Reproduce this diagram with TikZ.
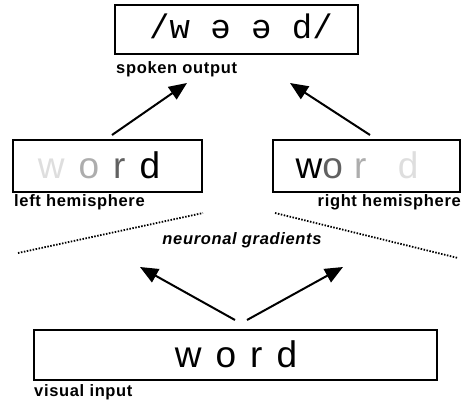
\documentclass[tikz,border=0pt]{standalone}
\usepackage{fontspec}
\setmainfont{Liberation Sans}
\newfontfamily\labfont[LetterSpace=4]{Liberation Sans}
\newfontfamily\ipafont{Liberation Mono}
\usetikzlibrary{arrows.meta}
\definecolor{gA}{gray}{0.87}
\definecolor{gB}{gray}{0.68}
\definecolor{gC}{gray}{0.38}
\definecolor{gD}{gray}{0.0}
\begin{document}
\begin{tikzpicture}[x=1pt,y=-1pt,
  box/.style={draw, line width=1.5pt, inner sep=0pt},
  wordtext/.style={inner sep=0pt, font=\fontsize{37}{40}\selectfont},
  ipatext/.style={inner sep=0pt, font=\ipafont\fontsize{34}{38}\selectfont},
  lab/.style={inner sep=0pt, font=\labfont\bfseries\fontsize{16.5}{18}\selectfont},
  labit/.style={inner sep=0pt, font=\labfont\bfseries\itshape\fontsize{16.5}{18}\selectfont},
  arr/.style={line width=2pt, -{Triangle[length=18pt,width=15pt]}},
  dots/.style={line width=1.8pt, dash pattern=on 1.5pt off 1.5pt}]
\useasboundingbox (0,0) rectangle (461,402);
% boxes
\node[box, minimum width=243pt, minimum height=49pt] (top) at (236.5,29.5) {};
\node[ipatext] (toptext) at (241,26) {/w ə ə d/};
\node[box, minimum width=189pt, minimum height=52pt] (left) at (107.5,166) {};
\node[wordtext] (lefttext) at (99,165) {\textcolor{gA}{w}\hspace{0.38em}\textcolor{gB}{o}\hspace{0.38em}\textcolor{gC}{r}\hspace{0.38em}\textcolor{gD}{d}};
\node[box, minimum width=187pt, minimum height=52pt] (right) at (366.5,166) {};
\node[wordtext] (righttext) at (357,165) {\textcolor{gD}{w}\hspace{0.0em}\textcolor{gC}{o}\hspace{0.3em}\textcolor{gB}{r}\hspace{0.85em}\textcolor{gA}{d}};
\node[box, minimum width=403pt, minimum height=50pt] (bottom) at (235.5,355) {};
\node[wordtext] (bottomtext) at (236,354) {w\hspace{0.38em}o\hspace{0.38em}r\hspace{0.38em}d};
% labels
\node[lab, anchor=north west] (spoken) at (116,61) {spoken output};
\node[lab, anchor=north west] (lefthemi) at (14,194) {left hemisphere};
\node[lab, anchor=north east] (righthemi) at (461,194) {right hemisphere};
\node[labit, anchor=north] (gradients) at (242,232) {neuronal gradients};
\node[lab, anchor=north west] (visual) at (34,384) {visual input};
% dotted lines
\coordinate (dl1) at (18,253);
\coordinate (dl2) at (203,213);
\coordinate (dr1) at (275,213);
\coordinate (dr2) at (458,258);
\draw[dots] (dl1) -- (dl2);
\draw[dots] (dr1) -- (dr2);
% arrows
\coordinate (ulT) at (112,135);
\coordinate (ulH) at (187,83);
\coordinate (urT) at (370,135);
\coordinate (urH) at (290,83);
\coordinate (llT) at (235,320);
\coordinate (llH) at (140,267);
\coordinate (lrT) at (247,320);
\coordinate (lrH) at (343,267);
\draw[arr] (ulT) -- (ulH);
\draw[arr] (urT) -- (urH);
\draw[arr] (llT) -- (llH);
\draw[arr] (lrT) -- (lrH);
\end{tikzpicture}
\end{document}
